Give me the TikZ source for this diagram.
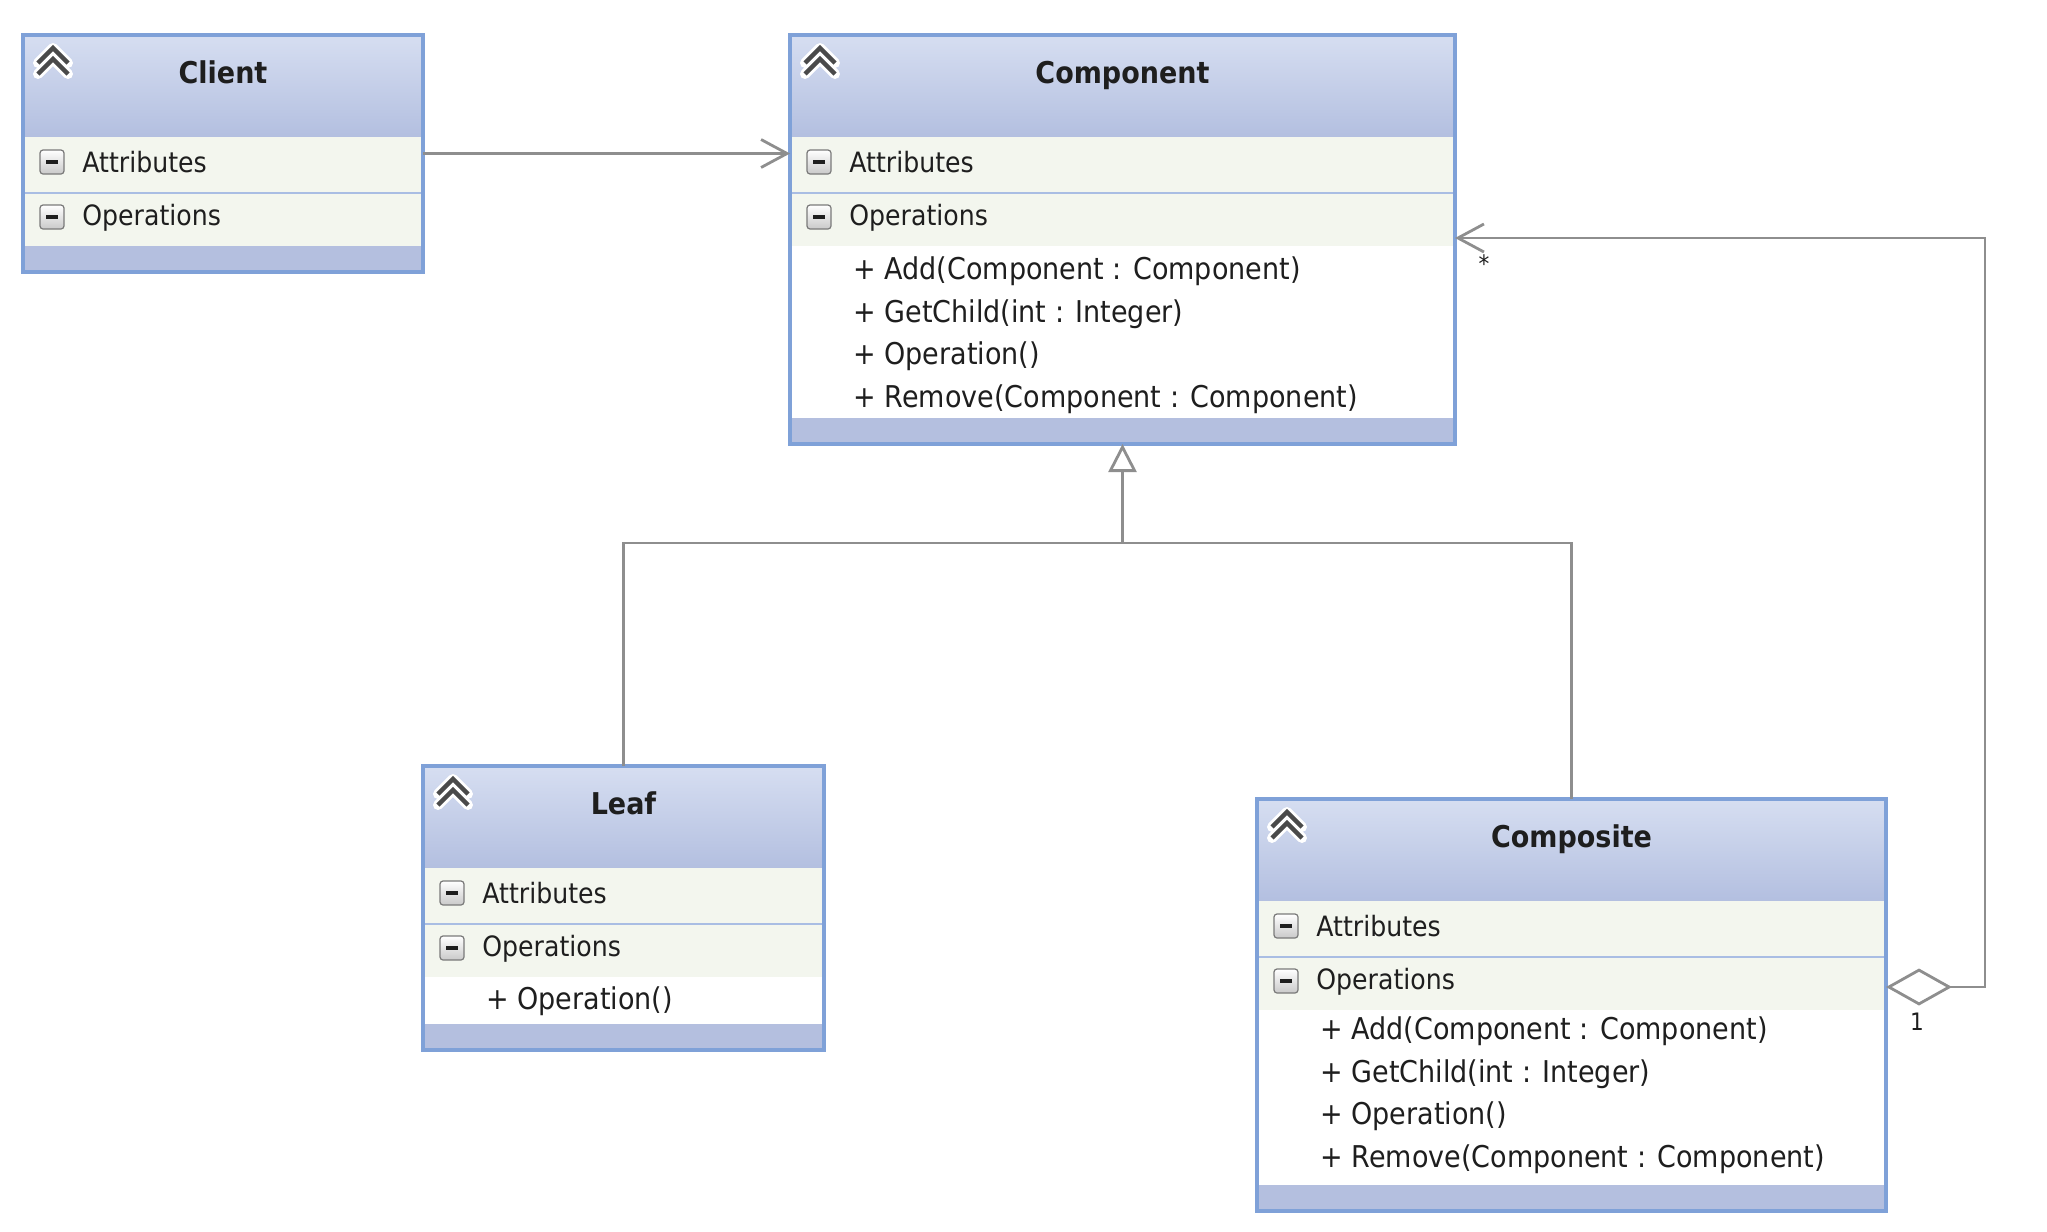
\documentclass[tikz,border=0pt]{standalone}
\usepackage{fontspec}
\setmainfont{DejaVu Sans}[FakeStretch=0.9]
\usetikzlibrary{arrows.meta,positioning,calc}

\definecolor{headtop}{HTML}{D6DEF1}
\definecolor{headbot}{HTML}{B3BFE0}
\definecolor{rowfill}{HTML}{F3F6EE}
\definecolor{rowline}{HTML}{A9BDE3}
\definecolor{footfill}{HTML}{B4BFDF}
\definecolor{frameblue}{HTML}{7FA1D8}
\definecolor{conngray}{HTML}{8E8E8E}
\definecolor{chevgray}{HTML}{4A4A4A}
\definecolor{boxgray}{HTML}{7A7A7A}
\definecolor{minusbot}{HTML}{C9C9C9}
\definecolor{textdark}{HTML}{1E1E1E}

\tikzset{
  classframe/.style={draw=frameblue, line width=1.7pt, inner sep=0pt, outer sep=0pt},
  classtitle/.style={font=\fontsize{15}{18}\selectfont\bfseries, text=textdark, inner sep=0pt, anchor=base},
  section/.style={font=\fontsize{14}{17}\selectfont, text=textdark, inner sep=0pt, anchor=base west},
  opitem/.style={section, font=\fontsize{15}{18}\selectfont},
  conn/.style={draw=conngray, line width=1.4pt},
  mult/.style={font=\fontsize{12}{14}\selectfont, text=textdark, inner sep=0pt},
  barb/.style={-{Straight Barb[length=13pt, width=14pt]}},
}

% one class box: name, title, left, top, right, bottom (pixels)
\newcommand{\umlclass}[6]{%
  \pgfmathsetmacro{\cw}{#5-#3}%
  \pgfmathsetmacro{\ch}{#6-#4}%
  \begin{scope}[shift={(#3,#4)}]
    \shade[top color=headtop, bottom color=headbot] (0,0) rectangle (\cw,102);
    \fill[rowfill] (0,102) rectangle (\cw,211);
    \draw[rowline, line width=1pt] (0,158) -- (\cw,158);
    \fill[white] (0,211) rectangle (\cw,\ch-26);
    \fill[footfill] (0,\ch-26) rectangle (\cw,\ch);
    % collapse icon
    \foreach \dy in {0,11}
      {\draw[white, line width=5pt, line join=round, line cap=round] (15,28+\dy) -- (30,13+\dy) -- (45,28+\dy);}
    \foreach \dy in {0,11}
      {\draw[chevgray, line width=2.2pt] (15,28+\dy) -- (30,13+\dy) -- (45,28+\dy);}
    % compartment toggles
    \foreach \yy in {127,182}
    {%
      \shadedraw[draw=boxgray, line width=0.6pt, rounded corners=1.5pt, top color=white, bottom color=minusbot] (17,\yy-12) rectangle (41,\yy+12);
      \draw[textdark, line width=1.6pt] (23,\yy) -- (35,\yy);
    }
    \node[section] (#1-attr) at (59,137) {Attributes};
    \node[section] (#1-ops) at (59,190) {Operations};
    \node[classtitle] (#1-title) at (\cw/2,48) {#2};
  \end{scope}
  \node[classframe, minimum width=\cw*0.5pt, minimum height=\ch*0.5pt] (#1) at ($(#3,#4)!0.5!(#5,#6)$) {};
}

\begin{document}
\begin{tikzpicture}[x=0.5pt, y=-0.5pt]
  \useasboundingbox (0,0) rectangle (2047,1232);

  % classes
  \umlclass{client}{Client}{23}{35}{423}{272}
  \umlclass{component}{Component}{790}{35}{1455}{444}
  \umlclass{leaf}{Leaf}{423}{766}{824}{1050}
  \umlclass{composite}{Composite}{1257}{799}{1886}{1211}

  % operations
  \foreach \op [count=\i] in {Add(Component : Component), GetChild(int : Integer), Operation(), Remove(Component : Component)}
  {%
    \node[opitem] (component-op\i) at (853, 237+42.5*\i) {+ \op};
    \node[opitem] (composite-op\i) at (1320, 997+42.5*\i) {+ \op};
  }
  \node[opitem] (leaf-op1) at (486, 1009) {+ Operation()};

  % connections
  \path (component.south) ++(0,99) coordinate (gen);
  \coordinate (aggy) at (0,987);
  \coordinate (loopx) at (1985,238);

  \draw[conn, barb] (client.east) -- (client.east -| component.west);
  \draw[conn] (leaf.north) |- (gen) -| (composite.north);
  \draw[conn, -{Triangle[open, length=14pt, width=14pt, fill=white]}] (gen) -- (component.south);
  \draw[conn, {Diamond[open, length=33pt, width=18.5pt, fill=white]}-{Straight Barb[length=13pt, width=14pt]}]
    (composite.east |- aggy) -| (loopx) -- (loopx -| component.east);

  \node[mult] (many) at (1484,264) {*};
  \node[mult] (one) at (1917,1022) {1};
\end{tikzpicture}
\end{document}
